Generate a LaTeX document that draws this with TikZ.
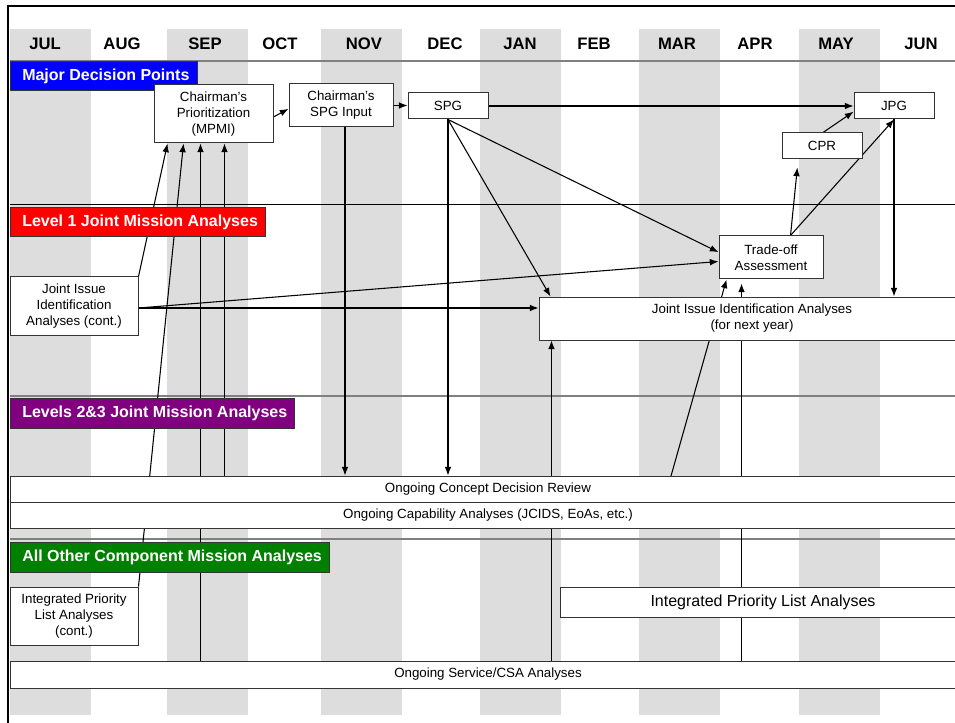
\documentclass[tikz,border=0pt]{standalone}
\usepackage{fontspec}
\setmainfont{Liberation Sans}
\usetikzlibrary{arrows.meta}
\usetikzlibrary{backgrounds}
\definecolor{bandgray}{RGB}{221,221,221}
\definecolor{catblue}{RGB}{0,0,255}
\definecolor{catred}{RGB}{255,0,0}
\definecolor{catpurple}{RGB}{128,0,128}
\definecolor{catgreen}{RGB}{0,128,0}
\tikzset{
    band/.style = {fill=bandgray},
    month/.style = {font=\fontsize{12.5}{15}\selectfont\bfseries},
    sepline/.style = {line width=1pt,draw=black!50},
    catbox/.style = {rectangle, draw=black!80, line width=0.6pt, anchor=north west, inner sep=0pt},
    cattext/.style = {anchor=west, text=white, inner xsep=9pt, font=\fontsize{12}{14}\selectfont\bfseries},
    box/.style = {rectangle, draw=black!80, line width=0.75pt, fill=white, align=center, inner sep=0pt, font=\fontsize{10}{12}\selectfont},
    edgen/.style = {-{Latex[length=6.5pt,width=5pt]}, line width=0.8pt},
}

\begin{document}
\begin{tikzpicture}[x=0.75pt,y=-0.75pt]
\useasboundingbox (0,0) rectangle (955,723);
%
\begin{scope}[on background layer]
\fill[band] (10,29) rectangle (91,715);
\fill[band] (167,29) rectangle (248,715);
\fill[band] (321,29) rectangle (402,715);
\fill[band] (480,29) rectangle (561,715);
\fill[band] (639,29) rectangle (720,715);
\fill[band] (799,29) rectangle (880,715);
\draw[sepline] (10,61) -- (955,61);
\draw[line width=0.75pt] (10,205) -- (955,205);
\draw[sepline] (10,396) -- (955,396);
\draw[sepline] (10,539) -- (955,539);
\end{scope}
\draw[line width=1.5pt] (955,6) -- (7.5,6) -- (7.5,723);
%
\node[month] at (45,43.5) (jul) {JUL};
\node[month] at (122,43.5) (aug) {AUG};
\node[month] at (205,43.5) (sep) {SEP};
\node[month] at (280,43.5) (oct) {OCT};
\node[month] at (364,43.5) (nov) {NOV};
\node[month] at (445,43.5) (dec) {DEC};
\node[month] at (520,43.5) (jan) {JAN};
\node[month] at (594,43.5) (feb) {FEB};
\node[month] at (677,43.5) (mar) {MAR};
\node[month] at (755,43.5) (apr) {APR};
\node[month] at (836,43.5) (may) {MAY};
\node[month] at (921,43.5) (jun) {JUN};
%
\node[catbox, fill=catblue, minimum width=140.25pt, minimum height=21.75pt] at (10,61) (mdp) {};
\node[cattext] at (mdp.west) (mdptext) {Major Decision Points};
\node[catbox, fill=catred, minimum width=191.25pt, minimum height=21.75pt] at (10,207) (lvl) {};
\node[cattext] at (lvl.west) (lvltext) {Level 1 Joint Mission Analyses};
\node[catbox, fill=catpurple, minimum width=213pt, minimum height=22.5pt] at (10,398) (lvm) {};
\node[cattext] at (lvm.west) (lvmtext) {Levels 2\&3 Joint Mission Analyses};
\node[catbox, fill=catgreen, minimum width=239.25pt, minimum height=22.5pt] at (10,542) (aoc) {};
\node[cattext] at (aoc.west) (aoctext) {All Other Component Mission Analyses};
%
\node[box, minimum width=89.25pt, minimum height=43.5pt] at (213.5,114) (cpm) {Chairman's\\Prioritization\\(MPMI)};
\node[box, minimum width=78pt, minimum height=32.25pt] at (341,105.5) (csi) {Chairman's\\SPG Input};
\node[box, minimum width=60pt, minimum height=19.5pt] at (448,106) (spg) {SPG};
\node[box, minimum width=60pt, minimum height=19.5pt] at (894,106) (jpg) {JPG};
\node[box, minimum width=60pt, minimum height=19.5pt] at (822,146) (cpr) {CPR};
\node[box, minimum width=78pt, minimum height=32.25pt] at (771,257.5) (toa) {Trade-off\\Assessment};
\node[box, minimum width=96pt, minimum height=43.5pt] at (74,306) (jiic) {Joint Issue\\Identification\\Analyses (cont.)};
\node[box, minimum width=319.5pt, minimum height=32.25pt] at (752,318.5) (jiin) {Joint Issue Identification Analyses\\(for next year)};
\node[box, minimum width=717pt, minimum height=19.5pt] at (488,489) (ocdr) {Ongoing Concept Decision Review};
\node[box, minimum width=717pt, minimum height=19.5pt] at (488,515) (oca) {Ongoing Capability Analyses (JCIDS, EoAs, etc.)};
\node[box, minimum width=96pt, minimum height=43.5pt] at (74,616) (ipc) {Integrated Priority\\List Analyses\\(cont.)};
\node[box, minimum width=304.5pt, minimum height=22.5pt, font=\fontsize{12}{14}\selectfont] at (763,602) (ipl) {Integrated Priority List Analyses};
\node[box, minimum width=717pt, minimum height=20.25pt] at (488,674.5) (oss) {Ongoing Service/CSA Analyses};
%
\coordinate (p3) at ([xshift=35.25pt]cpm.south west);
\coordinate (p4) at ([xshift=53.25pt]cpm.south west);
\coordinate (ci) at ([xshift=3pt]csi.south);
\coordinate (tt) at ([xshift=54pt]toa.north west);
\coordinate (jo) at ([yshift=-1.5pt]jiic.east);
\coordinate (cs) at ([xshift=9.75pt]jiin.south west);
\coordinate (cc) at ([xshift=17.25pt]toa.south west);
\coordinate (cr) at (671,476);
%
\begin{scope}[on background layer]
\draw[edgen] (jiic.north east) -- ([xshift=10.5pt]cpm.south west);
\draw[edgen] (ipc.north east) -- ([xshift=22.5pt]cpm.south west);
\draw[edgen] (p3 |- oss.north) -- (p3);
\draw[edgen] (p4 |- ocdr.north) -- (p4);
\draw[edgen] ([yshift=-2.25pt]cpm.east) -- ([yshift=-2.5pt]csi.west);
\draw[edgen] (csi.east) -- (csi.east -| spg.west);
\draw[edgen] (spg) edge (jpg);
\draw[edgen] ([xshift=0.75pt]cpr.north) -- (jpg.188);
\draw[edgen, shorten >=6pt] (tt) -- ([xshift=12.5pt]cpr.south west);
\draw[edgen] (tt) -- (jpg.south);
\draw[edgen] (jpg.south) -- (jpg.south |- jiin.north);
\draw[edgen] (ci) -- (ci |- ocdr.north);
\draw[edgen] (spg.south) -- (spg.south |- ocdr.north);
\draw[edgen] (spg.south) -- ([xshift=9pt]jiin.north west);
\draw[edgen] (spg.south) -- ([yshift=4pt]toa.west);
\draw[edgen] (jo) -- ([yshift=-3pt]toa.west);
\draw[edgen] (jo) -- (jo -| jiin.west);
\draw[edgen] (cs |- oss.north) -- (cs);
\draw[edgen] (cr) -- ([xshift=6pt]toa.south west);
\draw[edgen, shorten >=3pt] (cc |- oss.north) -- (cc);
\end{scope}
\end{tikzpicture}
\end{document}
